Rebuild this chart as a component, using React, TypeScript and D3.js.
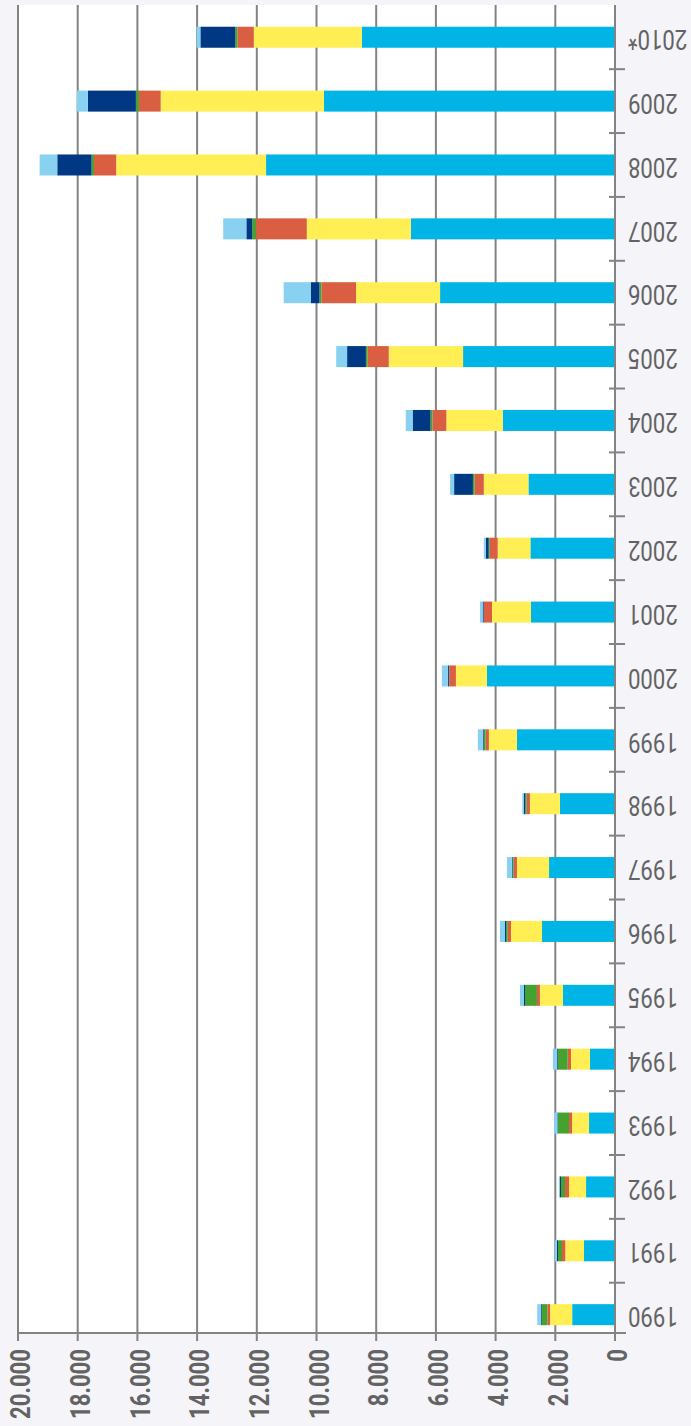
import React from 'react';
import * as d3 from 'd3';

const years = ['1990','1991','1992','1993','1994','1995','1996','1997','1998','1999','2000','2001','2002','2003','2004','2005','2006','2007','2008','2009','2010*'];

const seriesCyan   = [1435, 1040, 970, 870, 840, 1745, 2445, 2210, 1845, 3285, 4290, 2815, 2835, 2900, 3760, 5090, 5860, 6840, 11690, 9750, 8480];
const seriesYellow = [740, 625, 570, 570, 635, 770, 1040, 1075, 1005, 940, 1040, 1305, 1095, 1495, 1890, 2490, 2815, 3485, 5020, 5470, 3620];
const seriesRed    = [90, 110, 135, 100, 110, 100, 110, 110, 110, 110, 225, 280, 265, 310, 465, 710, 1160, 1700, 745, 730, 550];
const seriesGreen  = [190, 135, 135, 370, 335, 400, 55, 35, 45, 65, 10, 0, 35, 55, 65, 55, 65, 125, 80, 100, 70];
const seriesNavy   = [30, 35, 45, 20, 25, 35, 35, 25, 45, 25, 35, 35, 100, 630, 600, 630, 285, 200, 1150, 1610, 1170];
const seriesLight  = [120, 65, 25, 110, 135, 135, 170, 165, 55, 170, 200, 90, 65, 135, 230, 365, 915, 775, 590, 370, 130];

const seriesKeys = ['cyan', 'yellow', 'red', 'green', 'navy', 'light'];
const seriesColors = ['#00b5e6', '#ffef55', '#da5e42', '#45a22e', '#003883', '#88d1f0'];
const valueTicks = [0, 2000, 4000, 6000, 8000, 10000, 12000, 14000, 16000, 18000, 20000];

const W = 691;
const H = 1426;
const FONT = 'Roboto, "Noto Sans", sans-serif';
const NARROW = 0.82;

export default function App() {
  const rows = years.map((y, i) => ({
    year: y,
    cyan: seriesCyan[i],
    yellow: seriesYellow[i],
    red: seriesRed[i],
    green: seriesGreen[i],
    navy: seriesNavy[i],
    light: seriesLight[i],
  }));
  const stacked = d3.stack<any>().keys(seriesKeys)(rows);

  const plotLeft = 18, plotRight = 615, plotTop = 5, plotBottom = 1333;
  const x = d3.scaleLinear().domain([0, 20000]).range([plotRight, plotLeft]);
  const yOrder = [...years].reverse();
  const y = d3.scaleBand<string>().domain(yOrder).range([5.3, 1346.6]).paddingInner(0.671).paddingOuter(0.3355);
  const step = y.step();
  const fmt = (v: number) => v === 0 ? '0' : d3.format(',')(v).replace(/,/g, '.');

  const bandTicks = d3.range(1, years.length).map(i => 5.3 + i * step);

  return (
    <svg width={W} height={H} style={{ position: 'absolute', left: 0, top: 0, fontFamily: FONT }}>
      <rect x={0} y={0} width={W} height={H} fill="#f4f4f9" />
      <rect x={plotLeft} y={plotTop} width={plotRight - plotLeft} height={plotBottom - plotTop} fill="#ffffff" />
      {valueTicks.map(v => (
        <line key={'g' + v} x1={x(v)} x2={x(v)} y1={plotTop} y2={plotBottom + 8} stroke="#838383" strokeWidth={2} />
      ))}
      {stacked.map((s, si) => (
        <g key={s.key} fill={seriesColors[si]}>
          {s.map((d, i) => (
            <rect key={i} x={x(d[1])} y={y(d.data.year)} width={Math.max(0, x(d[0]) - x(d[1]))} height={y.bandwidth()} />
          ))}
        </g>
      ))}
      <line x1={plotLeft} x2={626} y1={plotBottom} y2={plotBottom} stroke="#838383" strokeWidth={2} />
      <line x1={plotRight} x2={plotRight} y1={plotTop} y2={plotBottom + 8} stroke="#838383" strokeWidth={2} />
      {bandTicks.map((t, i) => (
        <line key={'t' + i} x1={609} x2={625} y1={t} y2={t} stroke="#838383" strokeWidth={2} />
      ))}
      <line x1={609} x2={625} y1={plotBottom} y2={plotBottom} stroke="#838383" strokeWidth={2} />
      {years.map(yr => {
        const c = (y(yr) as number) + y.bandwidth() / 2;
        return (
          <text key={'yl' + yr} transform={`translate(628, ${c + 2}) rotate(180) scale(${NARROW}, 1)`} textAnchor="end" dominantBaseline="central" fontSize={27} fill="#636363" style={{ fontFamily: FONT }}>{yr}</text>
        );
      })}
      {valueTicks.map(v => (
        <text key={'vl' + v} transform={`translate(${x(v) + 3}, 1349) rotate(-90) scale(${NARROW}, 1)`} textAnchor="end" dominantBaseline="central" fontSize={27} fontWeight="bold" fill="#636363" style={{ fontFamily: FONT }}>{fmt(v)}</text>
      ))}
    </svg>
  );
}
